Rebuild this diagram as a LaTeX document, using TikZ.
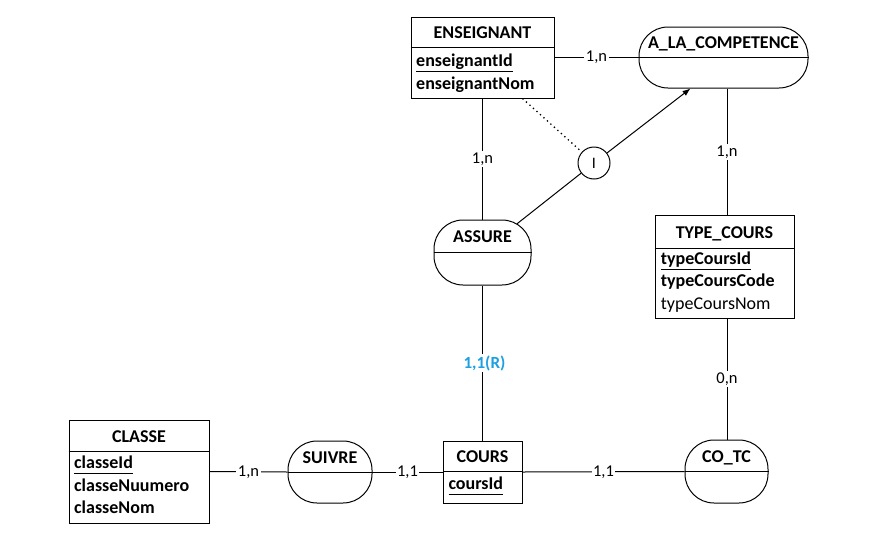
\documentclass[tikz,border=0pt]{standalone}
\usepackage{fontspec}
\setmainfont{Carlito}
\usetikzlibrary{arrows.meta,calc}
\definecolor{rblue}{RGB}{28,160,226}
\newcommand\myul[1]{\underline{\vphantom{gy}#1}}
\begin{document}
\begin{tikzpicture}[x=1pt,y=-1pt,
  box/.style={draw, line width=1pt, inner sep=0pt},
  ent/.style={box, rectangle},
  rel/.style={box, rounded corners=29pt},
  ttl/.style={anchor=base, inner sep=0pt, font=\fontsize{18}{20}\selectfont\bfseries},
  attr/.style={anchor=base west, inner sep=0pt, font=\fontsize{18}{20}\selectfont\bfseries},
  attrn/.style={anchor=base west, inner sep=0pt, font=\fontsize{18}{20}\selectfont},
  card/.style={fill=white, inner sep=1.5pt, font=\fontsize{16.5}{18}\selectfont},
  cardr/.style={fill=white, inner sep=1.5pt, text=rblue, font=\fontsize{17}{19}\selectfont\bfseries},
  conn/.style={line width=1pt},
]
\fill[white] (0,0) rectangle (888,541);
\useasboundingbox (0,0) rectangle (888,541);

% entities
\node[ent, minimum width=143pt, minimum height=81pt] (ens) at (482.5,57.5) {};
\draw[conn] ($(ens.north west)+(0,31)$) -- ($(ens.north east)+(0,31)$);
\node[ttl] (ensT) at (482.5,38.5) {ENSEIGNANT};
\node[attr] (ensA1) at (416,66.7) {\myul{enseignantId}};
\node[attr] (ensA2) at (416,89) {enseignantNom};

\node[ent, minimum width=139pt, minimum height=102.5pt] (tc) at (724.5,266.75) {};
\draw[conn] ($(tc.north west)+(0,33.5)$) -- ($(tc.north east)+(0,33.5)$);
\node[ttl] (tcT) at (724.5,238) {TYPE\_COURS};
\node[attr] (tcA1) at (660.7,264.3) {\myul{typeCoursId}};
\node[attr] (tcA2) at (660.7,286) {typeCoursCode};
\node[attrn] (tcA3) at (660.7,309) {typeCoursNom};

\node[ent, minimum width=140pt, minimum height=103pt] (classe) at (139,471.5) {};
\draw[conn] ($(classe.north west)+(0,32)$) -- ($(classe.north east)+(0,32)$);
\node[ttl] (classeT) at (139,442) {CLASSE};
\node[attr] (classeA1) at (74,468.5) {\myul{classeId}};
\node[attr] (classeA2) at (74,491.5) {classeNuumero};
\node[attr] (classeA3) at (74,513.3) {classeNom};

\node[ent, minimum width=79pt, minimum height=62pt] (cours) at (482.5,472) {};
\draw[conn] ($(cours.north west)+(0,31)$) -- ($(cours.north east)+(0,31)$);
\node[ttl] (coursT) at (482.5,462.3) {COURS};
\node[attr] (coursA1) at (448.3,489.3) {\myul{coursId}};

% relationships
\node[rel, minimum width=169pt, minimum height=61pt] (alc) at (723.5,57.5) {};
\draw[conn] (alc.west) -- (alc.east);
\node[ttl] (alcT) at (723.5,48.5) {A\_LA\_COMPETENCE};

\node[rel, minimum width=97pt, minimum height=65pt] (assure) at (482.5,252.5) {};
\draw[conn] (assure.west) -- (assure.east);
\node[ttl] (assureT) at (482.5,242) {ASSURE};

\node[rel, minimum width=84pt, minimum height=62pt] (suivre) at (330,472) {};
\draw[conn] (suivre.west) -- (suivre.east);
\node[ttl] (suivreT) at (330,463) {SUIVRE};

\node[rel, minimum width=83pt, minimum height=63pt] (cotc) at (726.5,471.5) {};
\draw[conn] (cotc.west) -- (cotc.east);
\node[ttl] (cotcT) at (726.5,462) {CO\_TC};

% constraint circle
\node[draw, circle, minimum size=32pt, inner sep=0pt, line width=1pt,
      font=\fontsize{16}{18}\selectfont] (ic) at (594,163) {I};

% connectors
\coordinate (vx) at (727,0);
\draw[conn] (ens.east) -- node[card] (l1) {1,n} (alc.west);
\draw[conn] (ens.south) -- node[card] (l2) {1,n} (assure.north);
\draw[conn] (alc.south -| vx) -- node[card] (l3) {1,n} (tc.north -| vx);
\draw[conn] (tc.south -| vx) -- node[card] (l4) {0,n} (cotc.north -| vx);
\draw[conn] (assure.south) -- node[cardr, xshift=2pt] (l5) {1,1(R)} (cours.north);
\draw[conn] (cours.east) -- node[card] (l6) {1,1} (cotc.west);
\draw[conn] (suivre.east) -- node[card] (l7) {1,1} (cours.west);
\draw[conn] (classe.east) -- node[card] (l8) {1,n} (suivre.west);

\draw[line width=1.3pt, dash pattern=on 1.3pt off 3.4pt] ([xshift=-32pt]ens.south east) -- (ic);
\draw[conn] ([shift={(34.5,-28.7)}]assure.center) -- (ic);
\draw[conn, -{Latex[length=8pt,width=6pt]}] (ic) -- ([xshift=-33pt]alc.south);
\end{tikzpicture}
\end{document}
